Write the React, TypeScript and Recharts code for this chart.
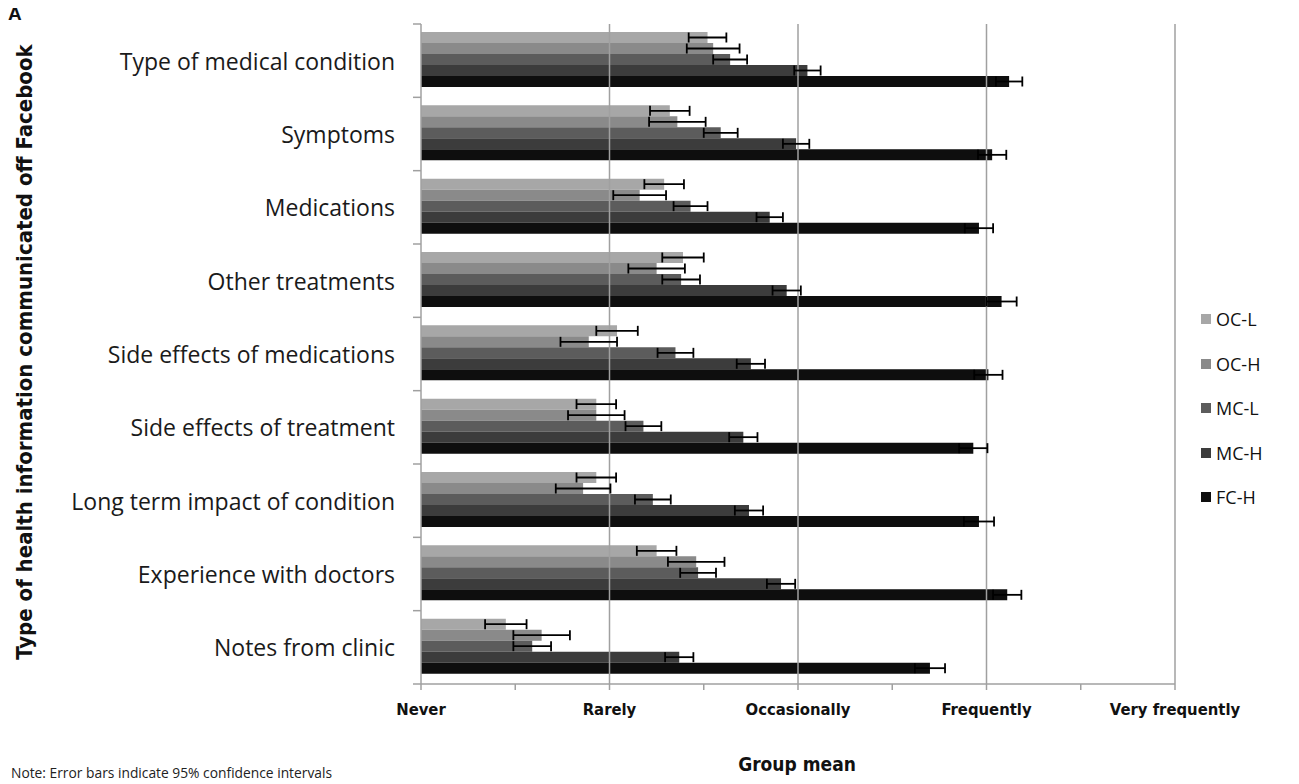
import React from 'react'
import { BarChart, Bar, XAxis, YAxis, ErrorBar, ReferenceLine } from 'recharts'

const categories = [
  'Type of medical condition',
  'Symptoms',
  'Medications',
  'Other treatments',
  'Side effects of medications',
  'Side effects of treatment',
  'Long term impact of condition',
  'Experience with doctors',
  'Notes from clinic',
]

const ocL = [2.52, 2.32, 2.29, 2.39, 2.04, 1.93, 1.93, 2.25, 1.45]
const ocLErr = [0.1, 0.105, 0.105, 0.11, 0.11, 0.105, 0.105, 0.105, 0.11]
const ocH = [2.55, 2.36, 2.16, 2.25, 1.89, 1.93, 1.86, 2.46, 1.64]
const ocHErr = [0.14, 0.15, 0.14, 0.15, 0.15, 0.15, 0.145, 0.15, 0.15]
const mcL = [2.64, 2.59, 2.43, 2.38, 2.35, 2.18, 2.23, 2.47, 1.59]
const mcLErr = [0.09, 0.09, 0.09, 0.1, 0.095, 0.095, 0.095, 0.095, 0.1]
const mcH = [3.05, 2.99, 2.85, 2.94, 2.75, 2.71, 2.74, 2.91, 2.37]
const mcHErr = [0.07, 0.07, 0.07, 0.075, 0.075, 0.075, 0.075, 0.075, 0.075]
const fcH = [4.12, 4.03, 3.96, 4.08, 4.01, 3.93, 3.96, 4.11, 3.7]
const fcHErr = [0.07, 0.075, 0.075, 0.08, 0.075, 0.075, 0.08, 0.075, 0.08]

const scaleLabels = ['Never', 'Rarely', 'Occasionally', 'Frequently', 'Very frequently']
const scaleTicks = [1, 1.5, 2, 2.5, 3, 3.5, 4, 4.5, 5]
const gridValues = [2, 3, 4, 5]

const series = [
  { key: 'OC-L', values: ocL, errors: ocLErr, color: '#a7a7a7' },
  { key: 'OC-H', values: ocH, errors: ocHErr, color: '#8a8a8a' },
  { key: 'MC-L', values: mcL, errors: mcLErr, color: '#5c5c5c' },
  { key: 'MC-H', values: mcH, errors: mcHErr, color: '#3c3c3c' },
  { key: 'FC-H', values: fcH, errors: fcHErr, color: '#0e0e0e' },
]

const data = categories.map((name, i) => {
  const row: Record<string, string | number> = { name }
  series.forEach((s) => {
    row[s.key] = s.values[i]
    row[s.key + '_err'] = s.errors[i]
  })
  return row
})

const W = 1283
const H = 768
const margin = { top: 16, right: 116, bottom: 52, left: 0 }
const xAxisHeight = 40
const yAxisWidth = 413
const tickMargin = 20
const band = (H - margin.top - margin.bottom - xAxisHeight) / categories.length

const labelFont = '"Open Sans", sans-serif'
const narrowFont = '"Liberation Sans Narrow", "DejaVu Sans Condensed", sans-serif'
const axisGray = '#a0a0a0'

// category label plus the boundary tick marks of its band
function CategoryTick({ x, y, payload, index }: any) {
  const axisX = x + 6 + tickMargin
  const top = y - band / 2
  const bottom = y + band / 2
  return (
    <g>
      <line x1={axisX - 8} x2={axisX} y1={top} y2={top} stroke={axisGray} strokeWidth={1.5} />
      {index === categories.length - 1 && (
        <line x1={axisX - 8} x2={axisX} y1={bottom} y2={bottom} stroke={axisGray} strokeWidth={1.5} />
      )}
      <text x={x} y={y} dy={9} textAnchor="end" fill="#1a1a1a" fontSize={23} fontFamily={labelFont}>
        {payload.value}
      </text>
    </g>
  )
}

export default function App() {
  return (
    <div style={{ position: 'relative', width: W, height: H + 8 }}>
      <BarChart
        width={W}
        height={H}
        data={data}
        layout="vertical"
        margin={margin}
        barCategoryGap={8}
        barGap={0}
      >
        <YAxis
          type="category"
          dataKey="name"
          width={yAxisWidth}
          axisLine={false}
          tickLine={false}
          tickMargin={tickMargin}
          tick={<CategoryTick />}
          interval={0}
        />
        <XAxis
          type="number"
          domain={[1, 5]}
          ticks={scaleTicks}
          interval={0}
          height={xAxisHeight}
          tickSize={6}
          tickMargin={13}
          axisLine={{ stroke: axisGray, strokeWidth: 1.5 }}
          tickLine={{ stroke: axisGray, strokeWidth: 1.5 }}
          tickFormatter={(v: number) => (Number.isInteger(v) ? scaleLabels[v - 1] : '')}
          tick={{ fontSize: 16.5, fontWeight: 700, fill: '#111', fontFamily: narrowFont }}
        />
        <ReferenceLine x={1} stroke={axisGray} strokeWidth={1.5} />
        {gridValues.map((v) => (
          <ReferenceLine key={v} x={v} stroke={axisGray} strokeWidth={1.5} />
        ))}
        {series.map((s) => (
          <Bar key={s.key} dataKey={s.key} fill={s.color} isAnimationActive={false}>
            <ErrorBar dataKey={s.key + '_err'} direction="x" width={5} stroke="#000" strokeWidth={1.8} />
          </Bar>
        ))}
      </BarChart>

      <div
        style={{
          position: 'absolute',
          left: 0,
          top: -5,
          fontFamily: '"Liberation Sans", Arial, sans-serif',
          fontWeight: 700,
          fontSize: 19,
          color: '#111',
        }}
      >
        A
      </div>

      <div
        style={{
          position: 'absolute',
          left: 17 - 350,
          top: 344 - 14,
          width: 700,
          height: 28,
          lineHeight: '28px',
          textAlign: 'center',
          transform: 'rotate(-90deg)',
          fontFamily: narrowFont,
          fontWeight: 700,
          fontSize: 22,
          color: '#111',
          whiteSpace: 'nowrap',
        }}
      >
        Type of health information communicated off Facebook
      </div>

      <div
        style={{
          position: 'absolute',
          left: 789 - 100,
          top: 745,
          width: 200,
          textAlign: 'center',
          fontFamily: narrowFont,
          fontWeight: 700,
          fontSize: 19,
          color: '#111',
        }}
      >
        Group mean
      </div>

      <div
        style={{
          position: 'absolute',
          left: 3,
          top: 757,
          fontFamily: labelFont,
          fontSize: 13.8,
          lineHeight: '16px',
          color: '#222',
          whiteSpace: 'nowrap',
        }}
      >
        Note: Error bars indicate 95% confidence intervals
      </div>

      <div style={{ position: 'absolute', left: 1193, top: 289 }}>
        {series.map((s) => (
          <div key={s.key} style={{ display: 'flex', alignItems: 'center', height: 44.5 }}>
            <span style={{ width: 10, height: 10, background: s.color, marginRight: 5, display: 'inline-block' }} />
            <span style={{ fontFamily: labelFont, fontSize: 18, color: '#111' }}>{s.key}</span>
          </div>
        ))}
      </div>
    </div>
  )
}
